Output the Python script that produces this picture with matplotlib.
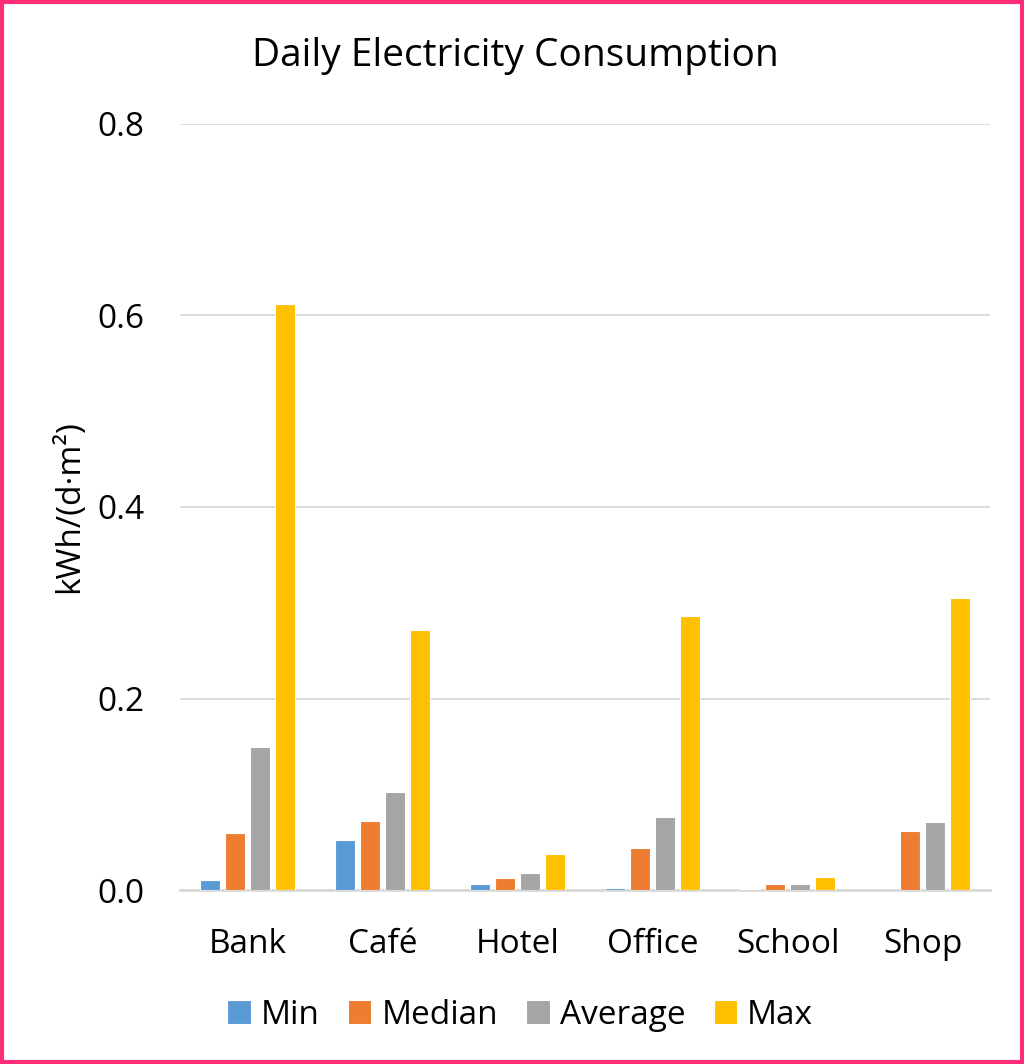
import matplotlib.pyplot as plt
import numpy as np
from matplotlib.patches import Rectangle

plt.rcParams['font.family'] = ['Open Sans', 'DejaVu Sans']

# consumo diário por tipo de edifício (kWh/(d·m²))
edificios = ["Bank", "Café", "Hotel", "Office", "School", "Shop"]
minimo = [0.0104, 0.052, 0.0063, 0.0018, 0.0014, 0.0]
mediana = [0.060, 0.0717, 0.0125, 0.0442, 0.0063, 0.0616]
media = [0.149, 0.102, 0.0174, 0.076, 0.0066, 0.0707]
maximo = [0.612, 0.2715, 0.0373, 0.286, 0.0139, 0.305]

series = [("Min", minimo, "#5B9BD5"),
          ("Median", mediana, "#ED7D31"),
          ("Average", media, "#A5A5A5"),
          ("Max", maximo, "#FFC000")]

fig = plt.figure(figsize=(10.24, 10.64), dpi=100)
ax = fig.add_axes([0.176, 0.1635, 0.791, 0.72])

x = np.arange(len(edificios))
passo = 0.185
for i, (nome, vals, cor) in enumerate(series):
    ax.bar(x + (i - 1.5) * passo, vals, width=0.15, color=cor,
           edgecolor="white", linewidth=0.8, label=nome, zorder=3)

ax.set_xlim(-0.5, len(edificios) - 0.5)
ax.set_ylim(0, 0.8)
ax.set_yticks([0.0, 0.2, 0.4, 0.6, 0.8])
ax.set_yticklabels(["0.0", "0.2", "0.4", "0.6", "0.8"])
ax.set_xticks(x)
ax.set_xticklabels(edificios)
ax.tick_params(length=0, labelsize=24)
ax.tick_params(axis="x", pad=27)
ax.tick_params(axis="y", pad=26)
ax.grid(axis="y", color="#D9D9D9", linewidth=1.3, zorder=0)
for s in ["top", "right", "left"]:
    ax.spines[s].set_visible(False)
ax.spines["bottom"].set_color("#D9D9D9")
ax.spines["bottom"].set_linewidth(2)

ax.set_ylabel("kWh/(d·m²)", fontsize=24, labelpad=8)
fig.text(0.503, 0.947, "Daily Electricity Consumption", ha="center",
         va="center", fontsize=28)

fig.legend(loc="center", bbox_to_anchor=(0.508, 0.046), ncol=4,
           frameon=False, fontsize=24, handlelength=0.7, handleheight=0.7,
           handletextpad=0.3, columnspacing=0.85)

# moldura rosa
fig.patches.append(Rectangle((0.002, 0.002), 0.996, 0.996, transform=fig.transFigure,
                             fill=False, edgecolor="#FF2D78", linewidth=3))

plt.savefig("out.png", dpi=100)
